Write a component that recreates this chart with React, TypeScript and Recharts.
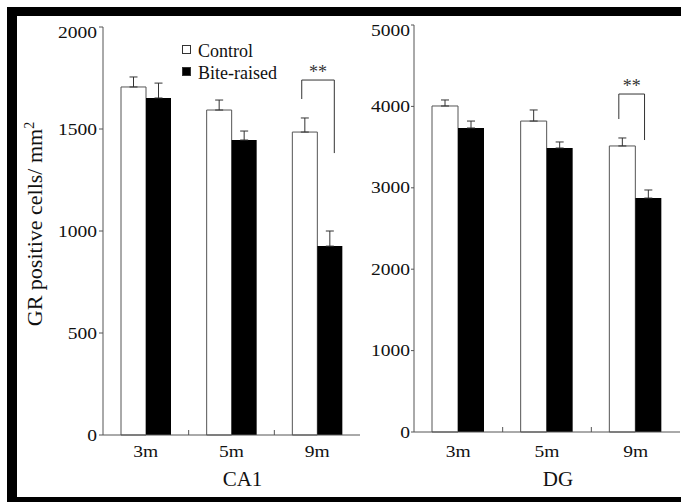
import React from 'react';
import { BarChart, Bar, XAxis, YAxis, ErrorBar, Legend, ScatterChart, Scatter } from 'recharts';

const FONT = '"Liberation Serif", "Times New Roman", serif';
const LINE = '#555';

// categories
const months = ['3m', '5m', '9m'];
const seriesOrder = ['Control', 'Bite-raised'];

// CA1 panel
const ca1Control = [1706, 1593, 1485];
const ca1ControlErr = [49, 49, 69];
const ca1Bite = [1652, 1446, 926];
const ca1BiteErr = [73, 44, 74];
const ca1Ticks = [0, 500, 1000, 1500, 2000];
// significance bracket: x in category units, y = [top, left leg end, right leg end]
const ca1SigX = [2.32, 2.7];
const ca1SigY = [1740, 1647, 1382];

// DG panel
const dgControl = [4005, 3820, 3514];
const dgControlErr = [74, 136, 98];
const dgBite = [3735, 3489, 2874];
const dgBiteErr = [85, 74, 99];
const dgTicks = [0, 1000, 2000, 3000, 4000, 5000];
const dgSigX = [2.31, 2.6];
const dgSigY = [4152, 3845, 3587];

const buildRows = (ctrl: number[], ctrlErr: number[], bite: number[], biteErr: number[]) =>
  months.map((m, i) => ({
    month: m,
    control: ctrl[i],
    controlErr: [0, ctrlErr[i]],
    bite: bite[i],
    biteErr: [0, biteErr[i]],
  }));

const YTick = ({ x, y, payload, top }: any) => (
  <text
    transform={`translate(${x},${y + (payload.value === top ? 5 : 0)}) scale(1.22,1)`}
    textAnchor="end"
    dy="0.35em"
    fontSize={16}
    fontFamily={FONT}
    fill="#111"
  >
    {payload.value}
  </text>
);

const XTick = ({ x, y, payload }: any) => (
  <text
    transform={`translate(${x},${y}) scale(1.22,1)`}
    textAnchor="middle"
    dy="0.71em"
    fontSize={16}
    fontFamily={FONT}
    fill="#111"
  >
    {payload.value}
  </text>
);

const yLabel = (props: any) => {
  const vb = props.viewBox;
  const cx = vb.x + 42;
  const cy = vb.y + vb.height / 2 - 7;
  return (
    <text
      x={cx}
      y={cy}
      transform={`rotate(-90, ${cx}, ${cy})`}
      textAnchor="middle"
      fontSize={22}
      fontFamily={FONT}
      fill="#111"
    >
      GR positive cells/ mm<tspan fontSize={14} dy={-8}>2</tspan>
    </text>
  );
};

const xLabel = (text: string) => (props: any) => {
  const vb = props.viewBox;
  return (
    <text
      x={vb.x + vb.width / 2 + 11}
      y={486}
      textAnchor="middle"
      fontSize={21}
      fontFamily={FONT}
      fill="#111"
    >
      {text}
    </text>
  );
};

const LegendBox = ({ payload }: any) => {
  const items = [...(payload || [])].sort(
    (a: any, b: any) => seriesOrder.indexOf(a.value) - seriesOrder.indexOf(b.value)
  );
  return (
    <div style={{ fontFamily: FONT, fontSize: 18, lineHeight: '22px', color: '#111' }}>
      {items.map((p: any) => (
        <div key={p.value} style={{ display: 'flex', alignItems: 'center', whiteSpace: 'nowrap' }}>
          <span
            style={{
              display: 'inline-block',
              width: 7,
              height: 7,
              border: '1px solid #333',
              background: p.color,
              marginRight: 7,
              transform: 'translateY(-2px)',
            }}
          />
          {p.value}
        </div>
      ))}
    </div>
  );
};

const noDot = () => <g />;

const Stars = (s: any) => (
  <text x={s.cx} y={s.cy} textAnchor="middle" fontSize={18} fontFamily={FONT} fill="#333">
    **
  </text>
);

interface PanelProps {
  rows: any[];
  ticks: number[];
  sigX: number[];
  sigY: number[];
  name: string;
  width: number;
  margin: { top: number; right: number; bottom: number; left: number };
  yWidth: number;
  tickSize: number;
  tickMargin: number;
  xTickMargin: number;
  barSize: number;
  showLegend?: boolean;
  showYLabel?: boolean;
}

const Panel = (p: PanelProps) => {
  const max = p.ticks[p.ticks.length - 1];
  const plotH = 502 - p.margin.top - p.margin.bottom - 52;
  const tickLen = (max * 5) / plotH;
  const starGap = (max * 2) / plotH;
  const bracket = [
    { x: p.sigX[0], y: p.sigY[1] },
    { x: p.sigX[0], y: p.sigY[0] },
    { x: p.sigX[1], y: p.sigY[0] },
    { x: p.sigX[1], y: p.sigY[2] },
  ];
  const stars = [{ x: (p.sigX[0] + p.sigX[1]) / 2, y: p.sigY[0] + starGap }];
  const innerTicks = [1, 2].map((v) => [
    { x: v, y: 0 },
    { x: v, y: tickLen },
  ]);
  const overlayMargin = {
    top: p.margin.top,
    right: p.margin.right,
    left: p.margin.left + p.yWidth,
    bottom: p.margin.bottom + 52,
  };
  return (
    <div style={{ position: 'relative', width: p.width, height: 502 }}>
      <BarChart width={p.width} height={502} data={p.rows} margin={p.margin} barGap={0}>
        <XAxis
          xAxisId="cat"
          dataKey="month"
          height={52}
          axisLine={{ stroke: LINE }}
          tickLine={false}
          tickSize={0}
          tickMargin={p.xTickMargin}
          tick={<XTick />}
          label={xLabel(p.name)}
        />
        <XAxis
          xAxisId="top"
          dataKey="month"
          orientation="top"
          height={0}
          axisLine={{ stroke: LINE }}
          tickLine={false}
          tick={false}
        />
        <YAxis
          width={p.yWidth}
          domain={[0, max]}
          ticks={p.ticks}
          interval={0}
          axisLine={{ stroke: LINE }}
          tickLine={{ stroke: LINE }}
          tickSize={p.tickSize}
          tickMargin={p.tickMargin}
          tick={<YTick top={max} />}
          label={p.showYLabel ? yLabel : undefined}
        />
        <YAxis
          yAxisId="right"
          orientation="right"
          width={0}
          domain={[0, max]}
          axisLine={{ stroke: LINE }}
          tickLine={false}
          tick={false}
        />
        {p.showLegend && (
          <Legend
            layout="vertical"
            align="center"
            verticalAlign="middle"
            content={<LegendBox />}
            wrapperStyle={{ left: 182, top: 40, width: 'auto' }}
          />
        )}
        <Bar
          xAxisId="cat"
          dataKey="control"
          name="Control"
          fill="#ffffff"
          stroke={LINE}
          strokeWidth={1}
          barSize={p.barSize}
          isAnimationActive={false}
        >
          <ErrorBar dataKey="controlErr" direction="y" width={4} stroke="#333" strokeWidth={1} isAnimationActive={false} />
        </Bar>
        <Bar
          xAxisId="cat"
          dataKey="bite"
          name="Bite-raised"
          fill="#000000"
          barSize={p.barSize}
          isAnimationActive={false}
        >
          <ErrorBar dataKey="biteErr" direction="y" width={4} stroke="#333" strokeWidth={1} isAnimationActive={false} />
        </Bar>
      </BarChart>
      <div style={{ position: 'absolute', left: 0, top: 0, pointerEvents: 'none' }}>
        <ScatterChart width={p.width} height={502} margin={overlayMargin}>
          <XAxis type="number" dataKey="x" domain={[0, 3]} allowDataOverflow hide />
          <YAxis type="number" dataKey="y" domain={[0, max]} allowDataOverflow hide />
          <Scatter data={bracket} line={{ stroke: '#333', strokeWidth: 1 }} shape={noDot} isAnimationActive={false} />
          {innerTicks.map((t, i) => (
            <Scatter key={i} data={t} line={{ stroke: LINE, strokeWidth: 1 }} shape={noDot} isAnimationActive={false} />
          ))}
          <Scatter data={stars} shape={Stars} isAnimationActive={false} />
        </ScatterChart>
      </div>
    </div>
  );
};

export default function App() {
  const ca1Rows = buildRows(ca1Control, ca1ControlErr, ca1Bite, ca1BiteErr);
  const dgRows = buildRows(dgControl, dgControlErr, dgBite, dgBiteErr);
  return (
    <div
      style={{
        position: 'absolute',
        left: 0,
        top: 0,
        width: 681,
        height: 502,
        overflow: 'hidden',
        background: '#fff',
      }}
    >
      <div
        style={{
          position: 'absolute',
          left: 7,
          top: 7,
          width: 720,
          height: 481,
          borderTop: '9px solid #000',
          borderLeft: '10px solid #000',
          borderBottom: '10px solid #000',
        }}
      />
      <div style={{ position: 'absolute', left: 0, top: 0 }}>
        <Panel
          rows={ca1Rows}
          ticks={ca1Ticks}
          sigX={ca1SigX}
          sigY={ca1SigY}
          name="CA1"
          width={362}
          margin={{ top: 27, right: 2, bottom: 15, left: 0 }}
          yWidth={103}
          tickSize={4}
          tickMargin={2}
          xTickMargin={11}
          barSize={25}
          showLegend
          showYLabel
        />
      </div>
      <div style={{ position: 'absolute', left: 362, top: 0 }}>
        <Panel
          rows={dgRows}
          ticks={dgTicks}
          sigX={dgSigX}
          sigY={dgSigY}
          name="DG"
          width={319}
          margin={{ top: 25, right: 1, bottom: 18, left: 0 }}
          yWidth={52}
          tickSize={3}
          tickMargin={1}
          xTickMargin={14}
          barSize={26}
        />
      </div>
    </div>
  );
}
